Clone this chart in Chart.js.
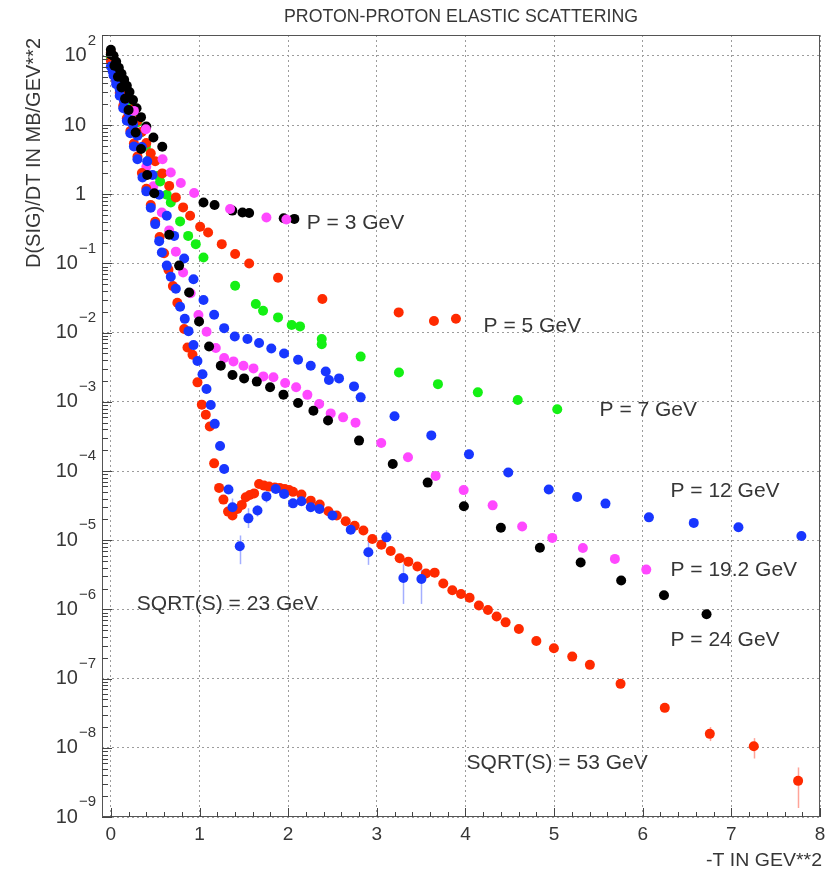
<!DOCTYPE html>
<html>
<head>
<meta charset="utf-8">
<script src="https://cdn.jsdelivr.net/npm/chart.js@4/dist/chart.umd.min.js"></script>
<style>
  html, body { margin: 0; padding: 0; background: #ffffff; }
  canvas { display: block; }
</style>
</head>
<body>
<canvas id="c" width="827" height="873"></canvas>
<script>
// -T (GeV^2) and dSigma/dt (mb/GeV^2) for each beam momentum / c.m. energy

// P = 3 GeV, first set
const tP3a = [0.0, 0.03, 0.06, 0.09, 0.12, 0.15, 0.18, 0.21, 0.25, 0.29, 0.34, 0.40, 0.48, 0.58, 1.045, 1.17, 1.37, 1.485, 1.56, 1.95, 2.07];
const sP3a = [122, 100, 82, 67, 55, 45, 37, 30, 23, 17.5, 13, 9.5, 6.6, 4.85, 0.76, 0.70, 0.58, 0.545, 0.535, 0.45, 0.44];

// P = 3 GeV, second set
const tP3b = [0.26, 0.395, 0.583, 0.676, 0.789, 0.939, 1.345, 1.755, 1.98];
const sP3b = [16, 8.7, 3.2, 2.06, 1.45, 1.04, 0.61, 0.46, 0.43];

// P = 5 GeV
const tP5 = [0.0, 0.04, 0.08, 0.12, 0.16, 0.2, 0.25, 0.3, 0.35, 0.4, 0.45, 0.5, 0.58, 0.658, 0.733, 0.815, 0.894, 1.007, 1.097, 1.251, 1.402, 1.56, 1.886, 2.386, 3.247, 3.645, 3.893];
const sP5 = [112, 82, 61, 45, 33, 24.5, 17, 11.5, 8, 5.5, 3.9, 3.0, 2.0, 1.32, 0.90, 0.645, 0.49, 0.339, 0.28, 0.19, 0.137, 0.1, 0.062, 0.0306, 0.0196, 0.0147, 0.0159];

// P = 7 GeV
const tP7 = [0.0, 0.03, 0.06, 0.1, 0.14, 0.18, 0.22, 0.26, 0.30, 0.338, 0.395, 0.443, 0.538, 0.556, 0.631, 0.676, 0.781, 0.872, 0.958, 1.045, 1.402, 1.635, 1.717, 1.886, 2.04, 2.134, 2.379, 2.379, 2.818, 3.25, 3.69, 4.14, 4.59, 5.036];
const sP7 = [95, 78, 64, 48, 36, 27, 20.5, 15, 11, 7.8, 4.9, 3.3, 1.85, 1.53, 0.98, 0.76, 0.405, 0.25, 0.19, 0.122, 0.0476, 0.0259, 0.0207, 0.0166, 0.0129, 0.0123, 0.0081, 0.0068, 0.0045, 0.00266, 0.0018, 0.00137, 0.00106, 0.00078];

// P = 12 GeV
const tP12 = [0.02, 0.06, 0.1, 0.15, 0.2, 0.25, 0.3, 0.35, 0.41, 0.47, 0.545, 0.631, 0.714, 0.827, 0.932, 1.045, 1.165, 1.278, 1.398, 1.541, 1.672, 1.81, 1.954, 2.112, 2.255, 2.424, 2.46, 2.574, 2.743, 2.818, 3.20, 3.615, 4.04, 4.483, 4.94, 5.26, 5.58, 6.07, 6.576, 7.08, 7.79];
const sP12 = [60, 44, 32.5, 22, 15, 10.2, 7, 4.8, 3.0, 1.9, 0.98, 0.49, 0.25, 0.118, 0.059, 0.0296, 0.0181, 0.0116, 0.0088, 0.0081, 0.0071, 0.0059, 0.0050, 0.00406, 0.00333, 0.00275, 0.00207, 0.00218, 0.00167, 0.00116, 6.2e-4, 3.27e-4, 1.74e-4, 9.5e-5, 5.4e-5, 4.2e-5, 3.38e-5, 2.14e-5, 1.78e-5, 1.54e-5, 1.15e-5];

// P = 19.2 GeV
const tP19 = [0.0, 0.056, 0.1, 0.15, 0.2, 0.26, 0.33, 0.4, 0.48, 0.575, 0.658, 0.733, 0.815, 0.90, 0.988, 1.08, 1.184, 1.278, 1.383, 1.496, 1.609, 1.72, 1.834, 1.966, 2.09, 2.217, 2.35, 2.48, 2.62, 2.76, 3.05, 3.352, 3.664, 3.98, 4.307, 4.64, 4.98, 5.325, 5.686, 6.04];
const sP19 = [85, 48.6, 35, 22.5, 15, 8.8, 4.7, 2.5, 1.3, 0.545, 0.30, 0.148, 0.074, 0.037, 0.018, 0.0103, 0.006, 0.0043, 0.00384, 0.00333, 0.00304, 0.00233, 0.00226, 0.00187, 0.00162, 0.00126, 9.3e-4, 6.8e-4, 5.96e-4, 5.0e-4, 2.54e-4, 1.58e-4, 8.5e-5, 5.3e-5, 3.19e-5, 1.58e-5, 1.08e-5, 7.7e-6, 5.37e-6, 3.76e-6];

// P = 24 GeV
const tP24 = [0.0, 0.04, 0.08, 0.12, 0.16, 0.2, 0.245, 0.28, 0.34, 0.41, 0.49, 0.658, 0.77, 0.883, 0.995, 1.108, 1.24, 1.372, 1.503, 1.646, 1.796, 1.947, 2.112, 2.285, 2.45, 2.80, 3.18, 3.574, 3.983, 4.4, 4.84, 5.3, 5.757, 6.24, 6.72];
const sP24 = [105, 72, 50, 35, 24, 16.5, 11.5, 7.8, 4.5, 1.9, 1.03, 0.26, 0.093, 0.038, 0.0145, 0.0063, 0.00333, 0.00244, 0.00218, 0.00196, 0.00162, 0.00127, 9.6e-4, 7.45e-4, 5.37e-4, 2.75e-4, 1.26e-4, 6.8e-5, 3.09e-5, 1.51e-5, 7.8e-6, 4.75e-6, 2.62e-6, 1.6e-6, 8.5e-7];

// SQRT(S) = 23 GeV
const tS23 = [0.0, 0.03, 0.06, 0.1, 0.14, 0.18, 0.22, 0.26, 0.3, 0.357, 0.4, 0.45, 0.5, 0.545, 0.575, 0.631, 0.676, 0.733, 0.781, 0.834, 0.876, 0.932, 0.977, 1.034, 1.079, 1.127, 1.172, 1.232, 1.278, 1.327, 1.372, 1.454, 1.552, 1.654, 1.755, 1.86, 1.954, 2.055, 2.15, 2.255, 2.353, 2.50, 2.706, 2.905, 3.108, 3.30, 3.503];
const sS23 = [70, 52, 39, 26.5, 17.5, 11.5, 7.6, 4.9, 3.2, 1.75, 1.1, 0.64, 0.37, 0.21, 0.144, 0.093, 0.064, 0.043, 0.0237, 0.0158, 0.0105, 0.0066, 0.0039, 0.0025, 0.00153, 9.0e-4, 4.8e-4, 2.3e-4, 1.07e-4, 5.4e-5, 2.99e-5, 8.2e-6, 2.07e-5, 2.68e-5, 4.3e-5, 5.5e-5, 4.67e-5, 3.41e-5, 3.65e-5, 2.99e-5, 2.83e-5, 2.27e-5, 1.42e-5, 6.7e-6, 1.1e-5, 2.85e-6, 2.75e-6];
// error bars (point index, lower end, upper end)
const errIdxS23 = [30, 31, 32, 33, 34, 43, 44, 45, 46];
const errLoS23  = [2.0e-5, 4.5e-6, 1.5e-5, 2.2e-5, 3.5e-5, 4.4e-6, 1.0e-5, 1.2e-6, 1.2e-6];
const errHiS23  = [4.0e-5, 1.17e-5, 2.9e-5, 3.2e-5, 5.0e-5, 1.0e-5, 1.4e-5, 4.5e-6, 4.1e-6];

// SQRT(S) = 53 GeV
const tS53 = [0.0, 0.03, 0.06, 0.1, 0.14, 0.18, 0.22, 0.26, 0.3, 0.35, 0.4, 0.45, 0.5, 0.55, 0.6, 0.65, 0.7, 0.75, 0.827, 0.864, 0.921, 0.977, 1.026, 1.071, 1.116, 1.165, 1.221, 1.27, 1.322, 1.372, 1.428, 1.477, 1.522, 1.567, 1.616, 1.672, 1.728, 1.785, 1.849, 1.905, 1.962, 2.01, 2.055, 2.15, 2.255, 2.356, 2.454, 2.548, 2.649, 2.75, 2.849, 2.95, 3.052, 3.157, 3.258, 3.356, 3.458, 3.555, 3.653, 3.75, 3.852, 3.95, 4.047, 4.152, 4.254, 4.352, 4.453, 4.603, 4.8, 4.998, 5.205, 5.404, 5.75, 6.249, 6.757, 7.253, 7.753];
const sS53 = [85, 62, 44, 29, 19, 12.5, 8.2, 5.4, 3.5, 2.03, 1.2, 0.70, 0.40, 0.24, 0.14, 0.081, 0.047, 0.027, 0.0113, 0.0061, 0.0048, 0.00191, 0.00091, 0.00065, 0.00044, 1.29e-4, 5.7e-5, 3.86e-5, 2.59e-5, 2.27e-5, 2.83e-5, 3.24e-5, 4.17e-5, 4.5e-5, 4.75e-5, 6.5e-5, 6.15e-5, 5.95e-5, 5.8e-5, 5.7e-5, 5.5e-5, 5.3e-5, 5.0e-5, 4.56e-5, 3.73e-5, 3.27e-5, 2.62e-5, 2.27e-5, 1.88e-5, 1.62e-5, 1.38e-5, 1.04e-5, 8.6e-6, 7.0e-6, 5.5e-6, 4.9e-6, 4.16e-6, 3.3e-6, 3.4e-6, 2.37e-6, 1.89e-6, 1.67e-6, 1.47e-6, 1.14e-6, 9.8e-7, 7.9e-7, 6.5e-7, 5.2e-7, 3.5e-7, 2.75e-7, 2.08e-7, 1.58e-7, 8.4e-8, 3.78e-8, 1.59e-8, 1.05e-8, 3.33e-9];
const errIdxS53 = [74, 75, 76];
const errLoS53  = [1.25e-8, 7.0e-9, 1.35e-9];
const errHiS53  = [2.0e-8, 1.38e-8, 5.2e-9];

// axis ticks
const xMajorTicks = [0, 1, 2, 3, 4, 5, 6, 7, 8];
const yDecades = [-9, -8, -7, -6, -5, -4, -3, -2, -1, 0, 1, 2];

// curve labels: text, -T of left edge, dSigma/dt at text centre
const curveLabels = [
  { text: 'P = 3 GeV',        t: 2.21,  s: 0.386 },
  { text: 'P = 5 GeV',        t: 4.205, s: 0.01253 },
  { text: 'P = 7 GeV',        t: 5.513, s: 7.66e-4 },
  { text: 'P = 12 GeV',       t: 6.313, s: 5.18e-5 },
  { text: 'P = 19.2 GeV',     t: 6.313, s: 3.73e-6 },
  { text: 'P = 24 GeV',       t: 6.313, s: 3.64e-7 },
  { text: 'SQRT(S) = 23 GeV', t: 0.293, s: 1.2e-6 },
  { text: 'SQRT(S) = 53 GeV', t: 4.013, s: 6.07e-9 }
];

const COLORS = {
  black: '#000000',
  red: '#ff2a00',
  green: '#14f014',
  blue: '#1836ff',
  magenta: '#ff48ff'
};
const TEXT_COLOR = '#363636';
const FONT = '"Liberation Sans", Arial, Helvetica, sans-serif';

function points(t, s) {
  return t.map((v, i) => ({ x: v, y: s[i] }));
}

function series(label, t, s, color) {
  return {
    label: label,
    data: points(t, s),
    backgroundColor: color,
    borderColor: color,
    borderWidth: 0,
    pointRadius: 5,
    pointHoverRadius: 5
  };
}

// first dataset is painted last (on top)
const datasets = [
  series('P = 24 GeV', tP24, sP24, COLORS.black),
  series('P = 3 GeV (b)', tP3b, sP3b, COLORS.magenta),
  series('P = 3 GeV', tP3a, sP3a, COLORS.black),
  series('SQRT(S) = 23 GeV', tS23, sS23, COLORS.blue),
  series('P = 12 GeV', tP12, sP12, COLORS.blue),
  series('SQRT(S) = 53 GeV', tS53, sS53, COLORS.red),
  series('P = 5 GeV', tP5, sP5, COLORS.red),
  series('P = 7 GeV', tP7, sP7, COLORS.green),
  series('P = 19.2 GeV', tP19, sP19, COLORS.magenta)
];

const errorBars = [
  { t: tS23, idx: errIdxS23, lo: errLoS23, hi: errHiS23, color: 'rgba(90,110,255,0.55)' },
  { t: tS53, idx: errIdxS53, lo: errLoS53, hi: errHiS53, color: 'rgba(255,90,70,0.55)' }
];

function fitText(ctx, text, x, y, width, align) {
  const w = ctx.measureText(text).width;
  const k = width / w;
  ctx.save();
  ctx.translate(x, y);
  ctx.scale(k, 1);
  ctx.textAlign = align;
  ctx.fillText(text, 0, 0);
  ctx.restore();
}

const decorations = {
  id: 'decorations',
  beforeDatasetsDraw(chart) {
    const ctx = chart.ctx;
    const xs = chart.scales.x, ys = chart.scales.y;
    ctx.save();
    ctx.lineWidth = 1.5;
    errorBars.forEach(eb => {
      ctx.strokeStyle = eb.color;
      eb.idx.forEach((i, k) => {
        const px = Math.round(xs.getPixelForValue(eb.t[i])) + 0.5;
        ctx.beginPath();
        ctx.moveTo(px, ys.getPixelForValue(eb.lo[k]));
        ctx.lineTo(px, ys.getPixelForValue(eb.hi[k]));
        ctx.stroke();
      });
    });
    ctx.restore();
  },
  afterDraw(chart) {
    const ctx = chart.ctx;
    const area = chart.chartArea;
    const xs = chart.scales.x, ys = chart.scales.y;
    ctx.save();

    // frame
    ctx.strokeStyle = '#555555';
    ctx.lineWidth = 1;
    ctx.strokeRect(area.left + 0.5, area.top + 0.5, area.right - area.left - 1, area.bottom - area.top - 1);

    // x ticks (inside, from the bottom edge)
    ctx.strokeStyle = '#444444';
    ctx.beginPath();
    for (let k = 0; k <= 40; k++) {
      const v = k * 0.2;
      const px = Math.round(xs.getPixelForValue(v)) + 0.5;
      const len = (k % 5 === 0) ? 9 : 5;
      ctx.moveTo(px, area.bottom);
      ctx.lineTo(px, area.bottom - len);
    }
    // y ticks (inside, from the left edge)
    yDecades.forEach(e => {
      for (let m = 1; m <= 9; m++) {
        const v = m * Math.pow(10, e);
        if (v > ys.max || v < ys.min) continue;
        const py = Math.round(ys.getPixelForValue(v)) + 0.5;
        const len = (m === 1) ? 10 : 6;
        ctx.moveTo(area.left, py);
        ctx.lineTo(area.left + len, py);
      }
    });
    ctx.stroke();

    ctx.fillStyle = TEXT_COLOR;

    // x tick labels
    ctx.font = '19px ' + FONT;
    ctx.textAlign = 'center';
    ctx.textBaseline = 'middle';
    xMajorTicks.forEach(v => {
      ctx.fillText(String(v), xs.getPixelForValue(v), area.bottom + 18);
    });

    // y tick labels as powers of ten
    yDecades.forEach(e => {
      const py = ys.getPixelForValue(Math.pow(10, e));
      ctx.textBaseline = 'middle';
      if (e === 0 || e === 1) {
        ctx.font = '20px ' + FONT;
        ctx.textAlign = 'right';
        ctx.fillText(e === 0 ? '1' : '10', 86, py);
        return;
      }
      const exp = (e < 0 ? '\u2212' : '') + Math.abs(e);
      ctx.font = '15px ' + FONT;
      const we = ctx.measureText(exp).width;
      const right = 96;
      ctx.textAlign = 'left';
      ctx.fillText(exp, right - we, py - 15);
      ctx.font = '20px ' + FONT;
      ctx.textAlign = 'right';
      ctx.fillText('10', right - we - 1, py);
    });

    // title
    ctx.font = '19px ' + FONT;
    ctx.textBaseline = 'middle';
    fitText(ctx, 'PROTON-PROTON ELASTIC SCATTERING', (area.left + area.right) / 2, 17, 354, 'center');

    // x axis title
    fitText(ctx, '-T IN GEV**2', area.right + 2, 861, 116, 'right');

    // y axis title
    ctx.save();
    ctx.translate(34, 38);
    ctx.rotate(-Math.PI / 2);
    ctx.font = '20px ' + FONT;
    fitText(ctx, 'D(SIG)/DT IN MB/GEV**2', 0, 0, 230, 'right');
    ctx.restore();

    // curve labels
    ctx.font = '21px ' + FONT;
    ctx.textAlign = 'left';
    ctx.textBaseline = 'middle';
    curveLabels.forEach(l => {
      ctx.fillText(l.text, xs.getPixelForValue(l.t), ys.getPixelForValue(l.s));
    });

    ctx.restore();
  }
};

new Chart(document.getElementById('c'), {
  type: 'scatter',
  data: { datasets: datasets },
  options: {
    responsive: false,
    devicePixelRatio: 1,
    animation: false,
    events: [],
    layout: { padding: { left: 102, right: 7, top: 35, bottom: 56 } },
    plugins: {
      legend: { display: false },
      tooltip: { enabled: false },
      title: { display: false }
    },
    scales: {
      x: {
        type: 'linear',
        min: -0.1,
        max: 8,
        afterBuildTicks: s => { s.ticks = xMajorTicks.map(v => ({ value: v })); },
        afterFit: s => { s.height = 0; },
        ticks: { display: false },
        grid: { color: '#9c9c9c', lineWidth: 1, drawTicks: false },
        border: { display: false, dash: [2, 3] }
      },
      y: {
        type: 'logarithmic',
        min: 1e-9,
        max: 200,
        afterBuildTicks: s => { s.ticks = yDecades.map(e => ({ value: Math.pow(10, e) })); },
        afterFit: s => { s.width = 0; },
        ticks: { display: false },
        grid: { color: '#9c9c9c', lineWidth: 1, drawTicks: false },
        border: { display: false, dash: [2, 3] }
      }
    }
  },
  plugins: [decorations]
});
</script>
</body>
</html>
